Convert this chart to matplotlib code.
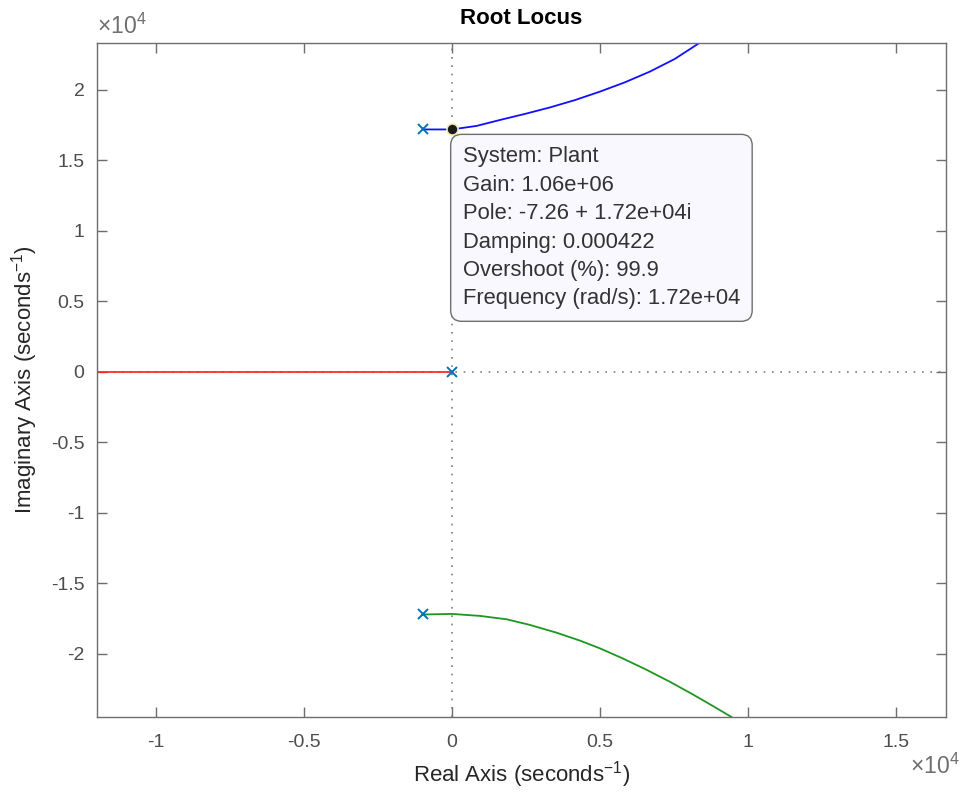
import numpy as np
import matplotlib
matplotlib.use('Agg')
import matplotlib.pyplot as plt
from matplotlib.ticker import FuncFormatter

plt.rcParams['font.family'] = ['Liberation Sans', 'DejaVu Sans']
plt.rcParams['mathtext.fontset'] = 'custom'
plt.rcParams['mathtext.rm'] = 'Liberation Sans'
plt.rcParams['mathtext.default'] = 'regular'

# Root locus branches (real / imaginary parts, seconds^-1)
red_re = [0, -20000]
red_im = [0, 0]
blue_re = [-980, -7, 834, 1620, 2466, 3311, 4155, 5000, 5845, 6689, 7534, 8311, 9000]
blue_im = [17200, 17200, 17450, 17870, 18300, 18760, 19280, 19880, 20540,
           21300, 22200, 23260, 24200]
green_re = [-980, 0, 946, 1847, 2635, 3536, 4324, 5000, 5788, 6577, 7365,
            8153, 8829, 9425, 9800]
green_im = [-17200, -17160, -17300, -17540, -17940, -18490, -19050, -19600,
            -20330, -21120, -21970, -22880, -23700, -24440, -24910]

# Open-loop poles
pole_re = [-980, -980, 0]
pole_im = [17200, -17200, 0]

# Data tip
tip_re, tip_im = -7.26, 17200
tip_lines = ['System: Plant',
             'Gain: 1.06e+06',
             'Pole: -7.26 + 1.72e+04i',
             'Damping: 0.000422',
             'Overshoot (%): 99.9',
             'Frequency (rad/s): 1.72e+04']

xticks = [-10000, -5000, 0, 5000, 10000, 15000]
yticks = [-20000, -15000, -10000, -5000, 0, 5000, 10000, 15000, 20000]

fig = plt.figure(figsize=(9.63, 7.92), dpi=100)
ax = fig.add_axes([0.1007, 0.0947, 0.8816, 0.851])

ax.axvline(0, color='#808080', ls=(0, (1, 4)), lw=1.2, zorder=1)
ax.axhline(0, color='#808080', ls=(0, (1, 4)), lw=1.2, zorder=1)

ax.plot(red_re, red_im, color='#ff2a2a', lw=1.3, zorder=2)
ax.plot(blue_re, blue_im, color='#1010ff', lw=1.3, zorder=2)
ax.plot(green_re, green_im, color='#1f961f', lw=1.3, zorder=2)
ax.plot(pole_re, pole_im, 'x', color='#0072BD', ms=7, mew=1.4, ls='none', zorder=3)

ax.plot([tip_re], [tip_im], 'o', color='#1a1a1a', mec='#f0ecb0', mew=1.2, ms=8, zorder=5)
ax.annotate('\n'.join(tip_lines), xy=(tip_re, tip_im), xytext=(11, -17),
            textcoords='offset pixels', ha='left', va='top', fontsize=15.8,
            color='#333333', linespacing=1.46, zorder=6,
            bbox=dict(boxstyle='round,pad=0.55,rounding_size=0.5',
                      fc='#f8f8fe', ec='#6e6e6e', lw=1.0))

ax.set_xlim(-12000, 16700)
ax.set_ylim(-24470, 23330)
ax.set_xticks(xticks)
ax.set_yticks(yticks)
fmt = FuncFormatter(lambda v, p: '%g' % (v / 1e4))
ax.xaxis.set_major_formatter(fmt)
ax.yaxis.set_major_formatter(fmt)

ax.tick_params(direction='in', length=7, width=1, colors='#6e6e6e',
               labelcolor='#4d4d4d', labelsize=14, top=True, right=True)
ax.tick_params(axis='x', pad=12)
ax.tick_params(axis='y', pad=9)
for s in ax.spines.values():
    s.set_color('#6e6e6e')
    s.set_linewidth(1.0)

ax.set_title('Root Locus', fontsize=16, fontweight='bold', pad=14)
ax.set_xlabel('Real Axis (seconds$^{-1}$)', fontsize=16, color='#262626', labelpad=6)
ax.set_ylabel('Imaginary Axis (seconds$^{-1}$)', fontsize=16, color='#262626', labelpad=8)

ax.text(0.0, 1.006, r'$\times10^{4}$', transform=ax.transAxes, fontsize=16.5,
        color='#6e6e6e', ha='left', va='bottom')
ax.text(1.016, -0.055, r'$\times10^{4}$', transform=ax.transAxes, fontsize=16.5,
        color='#6e6e6e', ha='right', va='top')

fig.savefig('out.png', dpi=100)
